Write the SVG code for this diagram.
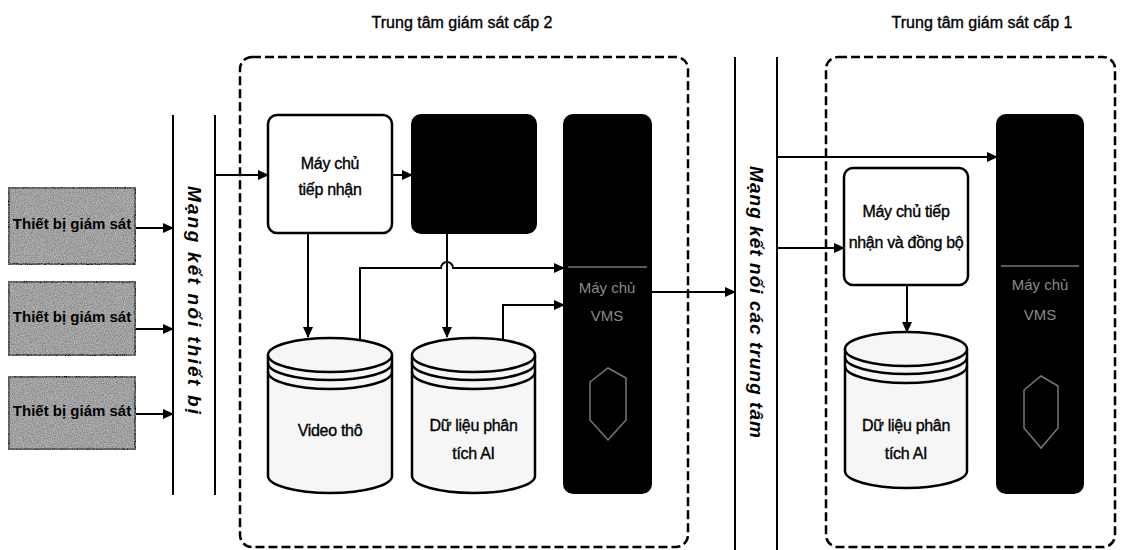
<svg xmlns="http://www.w3.org/2000/svg" width="1121" height="550" viewBox="0 0 1121 550">
<defs>
<marker id="arr" markerWidth="11" markerHeight="10" refX="10" refY="5" orient="auto" markerUnits="userSpaceOnUse">
<path d="M0,0 L11,5 L0,10 Z" fill="#000"/>
</marker>
<filter id="grit" x="0" y="0" width="1" height="1">
<feTurbulence type="fractalNoise" baseFrequency="0.9" numOctaves="2" seed="3" result="n"/>
<feColorMatrix in="n" type="matrix" values="0 0 0 0 0.25  0 0 0 0 0.25  0 0 0 0 0.25  0 0 0 -2.2 1.6" result="d"/>
<feComposite in="d" in2="SourceGraphic" operator="in" result="dd"/>
<feMerge><feMergeNode in="SourceGraphic"/><feMergeNode in="dd"/></feMerge>
</filter>
</defs>
<style>
text{font-family:"Liberation Sans",Arial,sans-serif;fill:#000}
.title{font-size:16px;stroke:#000;stroke-width:0.35}
.lbl{font-size:16px;text-anchor:middle;stroke:#000;stroke-width:0.35;letter-spacing:-0.3px}
.vt{font-size:19px;font-weight:bold;font-style:italic;text-anchor:middle}
.dash{fill:none;stroke:#000;stroke-width:2.5;stroke-dasharray:9 4}
.box{fill:#fff;stroke:#000;stroke-width:2.5}
.blk{fill:#000;stroke:#000;stroke-width:2}
.dev{fill:#b5b5b5;stroke:#000;stroke-width:3.5}
.devt{font-size:15px;text-anchor:middle;font-weight:bold}
.net{stroke:#000;stroke-width:2;fill:none}
.con{stroke:#000;stroke-width:2;fill:none;marker-end:url(#arr)}
.cyl{fill:#f6f6f6;stroke:#000;stroke-width:2.5}
.ring{fill:none;stroke:#000;stroke-width:2.5}
.faint{fill:#8a8a8a;font-size:15px;text-anchor:middle}
.fl{stroke:#777;stroke-width:1.5;fill:none}
</style>

<!-- titles -->
<text class="title" x="462" y="28" text-anchor="middle">Trung tâm giám sát cấp 2</text>
<text class="title" x="982" y="28" text-anchor="middle">Trung tâm giám sát cấp 1</text>

<!-- dashed containers -->
<rect class="dash" x="240" y="57" width="448" height="490" rx="12"/>
<rect class="dash" x="826" y="57" width="289" height="490" rx="12"/>

<!-- network lines -->
<g id="net-devices">
<line class="net" x1="173" y1="115" x2="173" y2="495"/>
<line class="net" x1="215" y1="115" x2="215" y2="495"/>
<text class="vt" transform="translate(188,300) rotate(90)" textLength="228" lengthAdjust="spacing">Mạng kết nối thiết bị</text>
</g>
<g id="net-centers">
<line class="net" x1="735" y1="57" x2="735" y2="550"/>
<line class="net" x1="777" y1="57" x2="777" y2="550"/>
<text class="vt" transform="translate(750,302) rotate(90)" textLength="272" lengthAdjust="spacing">Mạng kết nối các trung tâm</text>
</g>

<!-- devices -->
<g id="dev1"><rect class="dev" x="8" y="187" width="128" height="78" filter="url(#grit)"/><text class="devt" x="72" y="229">Thiết bị giám sát</text></g>
<g id="dev2"><rect class="dev" x="8" y="281" width="128" height="75" filter="url(#grit)"/><text class="devt" x="72" y="322">Thiết bị giám sát</text></g>
<g id="dev3"><rect class="dev" x="8" y="376" width="128" height="74" filter="url(#grit)"/><text class="devt" x="72" y="416">Thiết bị giám sát</text></g>

<!-- level 2 nodes -->
<g id="recv2">
<rect class="box" x="268" y="115" width="124" height="118" rx="9"/>
<text class="lbl" x="330" y="169">Máy chủ</text>
<text class="lbl" x="330" y="195">tiếp nhận</text>
</g>
<g id="black2">
<rect class="blk" x="412" y="115" width="124" height="118" rx="9"/>
</g>
<g id="vms2">
<rect class="blk" x="564" y="115" width="87" height="378" rx="9"/>
<line class="fl" x1="568" y1="267" x2="647" y2="267"/>
<text class="faint" x="607" y="293">Máy chủ</text>
<text class="faint" x="607" y="321">VMS</text>
<path class="fl" d="M590,420 V382 L608,368 L626,378 V420 L608,440 Z"/>
</g>
<g id="video">
<path class="cyl" d="M268,355 V476 A62,17 0 0 0 392,476 V355"/>
<ellipse class="cyl" cx="330" cy="355" rx="62" ry="17"/>
<path class="ring" d="M268,363 A62,17 0 0 0 392,363"/>
<path class="ring" d="M268,372 A62,17 0 0 0 392,372"/>
<text class="lbl" x="330" y="436">Video thô</text>
</g>
<g id="ai2">
<path class="cyl" d="M412,355 V476 A61.5,17 0 0 0 535,476 V355"/>
<ellipse class="cyl" cx="473.5" cy="355" rx="61.5" ry="17"/>
<path class="ring" d="M412,363 A61.5,17 0 0 0 535,363"/>
<path class="ring" d="M412,372 A61.5,17 0 0 0 535,372"/>
<text class="lbl" x="473.5" y="431">Dữ liệu phân</text>
<text class="lbl" x="473.5" y="459">tích AI</text>
</g>

<!-- level 1 nodes -->
<g id="recv1">
<rect class="box" x="844" y="168" width="124" height="117" rx="9"/>
<text class="lbl" x="906" y="217">Máy chủ tiếp</text>
<text class="lbl" x="906" y="248">nhận và đồng bộ</text>
</g>
<g id="vms1">
<rect class="blk" x="997" y="115" width="86" height="378" rx="9"/>
<line class="fl" x1="1001" y1="266" x2="1079" y2="266"/>
<text class="faint" x="1040" y="290">Máy chủ</text>
<text class="faint" x="1040" y="320">VMS</text>
<path class="fl" d="M1024,428 V390 L1041,376 L1058,386 V428 L1041,448 Z"/>
</g>
<g id="ai1">
<path class="cyl" d="M845,349 V471 A61,17 0 0 0 967,471 V349"/>
<ellipse class="cyl" cx="906" cy="349" rx="61" ry="17"/>
<path class="ring" d="M845,357 A61,17 0 0 0 967,357"/>
<path class="ring" d="M845,366 A61,17 0 0 0 967,366"/>
<text class="lbl" x="906" y="431">Dữ liệu phân</text>
<text class="lbl" x="906" y="459">tích AI</text>
</g>

<!-- connectors -->
<g id="connectors">
<line class="con" x1="136" y1="228" x2="173" y2="228"/>
<line class="con" x1="136" y1="329" x2="173" y2="329"/>
<line class="con" x1="136" y1="414" x2="173" y2="414"/>
<line class="con" x1="215" y1="175" x2="268" y2="175"/>
<line class="con" x1="392" y1="175" x2="412" y2="175"/>
<line class="con" x1="308" y1="233" x2="308" y2="337"/>
<line class="con" x1="447" y1="233" x2="447" y2="337"/>
<path class="con" d="M360,340 V268 H441 A6,6 0 0 1 453,268 H564"/>
<path class="con" d="M503,340 V305 H564"/>
<line class="con" x1="651" y1="292" x2="735" y2="292"/>
<line class="con" x1="777" y1="157" x2="997" y2="157"/>
<line class="con" x1="777" y1="248" x2="844" y2="248"/>
<line class="con" x1="907" y1="285" x2="907" y2="332"/>
</g>
</svg>
